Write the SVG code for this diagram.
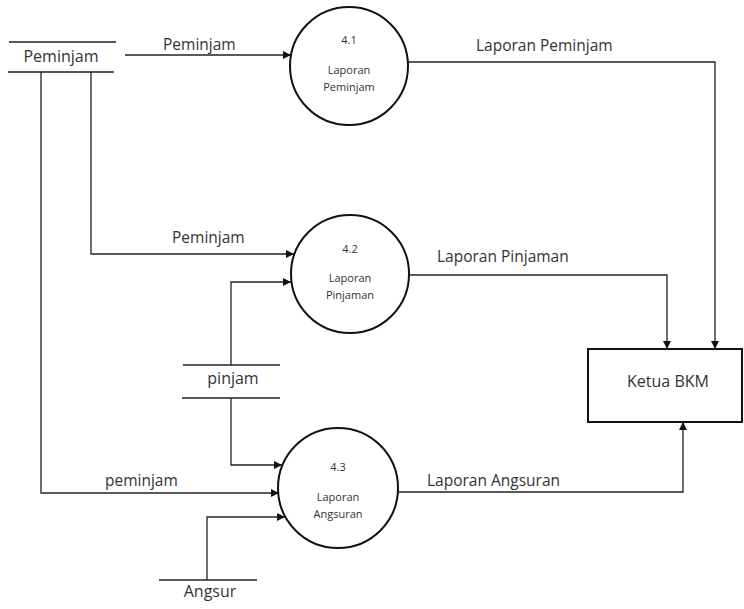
<svg xmlns="http://www.w3.org/2000/svg" width="744" height="609" viewBox="0 0 744 609">
  <style>
    text { font-family: "Open Sans", "Noto Sans", "Liberation Sans", sans-serif; fill: #333; }
    .lbl { font-size: 15.5px; }
    .store { font-size: 16px; text-anchor: middle; }
    .ptxt { font-size: 11px; text-anchor: middle; }
    .proc { fill: #fff; stroke: #111; stroke-width: 2; }
    .sline { stroke: #222; stroke-width: 1.3; fill: none; }
    .flow { stroke: #222; stroke-width: 1.3; fill: none; marker-end: url(#arrow); }
    .ext { fill: #fff; stroke: #111; stroke-width: 2; }
  </style>
  <defs>
    <marker id="arrow" viewBox="0 0 10 10" refX="10" refY="5" markerWidth="10" markerHeight="8" markerUnits="userSpaceOnUse" orient="auto">
      <path d="M0,0 L10,5 L0,10 Z" fill="#111"/>
    </marker>
  </defs>
  <rect width="744" height="609" fill="#fff"/>

  <!-- data flows -->
  <g id="connectors">
    <path class="flow" d="M125,55 H291"/>
    <path class="flow" d="M91,72 V254 H294"/>
    <path class="flow" d="M231,365 V282 H291"/>
    <path class="flow" d="M231,398 V465 H282"/>
    <path class="flow" d="M41,72 V493 H279"/>
    <path class="flow" d="M207,580 V517 H285"/>
    <path class="flow" d="M408,62 H715 V349"/>
    <path class="flow" d="M409,275 H667 V349"/>
    <path class="flow" d="M398,492 H683 V422"/>
    <text class="lbl" x="163" y="50">Peminjam</text>
    <text class="lbl" x="172" y="243">Peminjam</text>
    <text class="lbl" x="105" y="486">peminjam</text>
    <text class="lbl" x="476" y="51">Laporan Peminjam</text>
    <text class="lbl" x="437" y="262">Laporan Pinjaman</text>
    <text class="lbl" x="427" y="486">Laporan Angsuran</text>
  </g>

  <!-- data stores -->
  <g id="store-peminjam">
    <path class="sline" d="M9,42 H116 M8,72 H114"/>
    <text class="store" x="61" y="62">Peminjam</text>
  </g>
  <g id="store-pinjam">
    <path class="sline" d="M183,365 H280 M182,398 H280"/>
    <text class="store" x="233" y="384">pinjam</text>
  </g>
  <g id="store-angsur">
    <path class="sline" d="M159,580 H257"/>
    <text class="store" x="210" y="597">Angsur</text>
  </g>

  <!-- processes -->
  <g id="proc-4-1">
    <circle class="proc" cx="349" cy="66" r="59"/>
    <text class="ptxt" x="349" y="44">4.1</text>
    <text class="ptxt" x="349" y="74">Laporan</text>
    <text class="ptxt" x="349" y="91">Peminjam</text>
  </g>
  <g id="proc-4-2">
    <circle class="proc" cx="350" cy="274" r="59"/>
    <text class="ptxt" x="350" y="253">4.2</text>
    <text class="ptxt" x="350" y="282">Laporan</text>
    <text class="ptxt" x="350" y="299">Pinjaman</text>
  </g>
  <g id="proc-4-3">
    <circle class="proc" cx="338" cy="488" r="60"/>
    <text class="ptxt" x="338" y="471">4.3</text>
    <text class="ptxt" x="338" y="501">Laporan</text>
    <text class="ptxt" x="338" y="518">Angsuran</text>
  </g>

  <!-- external entity -->
  <g id="ketua-bkm">
    <rect class="ext" x="588" y="349" width="154" height="73"/>
    <text class="store" x="668" y="387">Ketua BKM</text>
  </g>
</svg>
